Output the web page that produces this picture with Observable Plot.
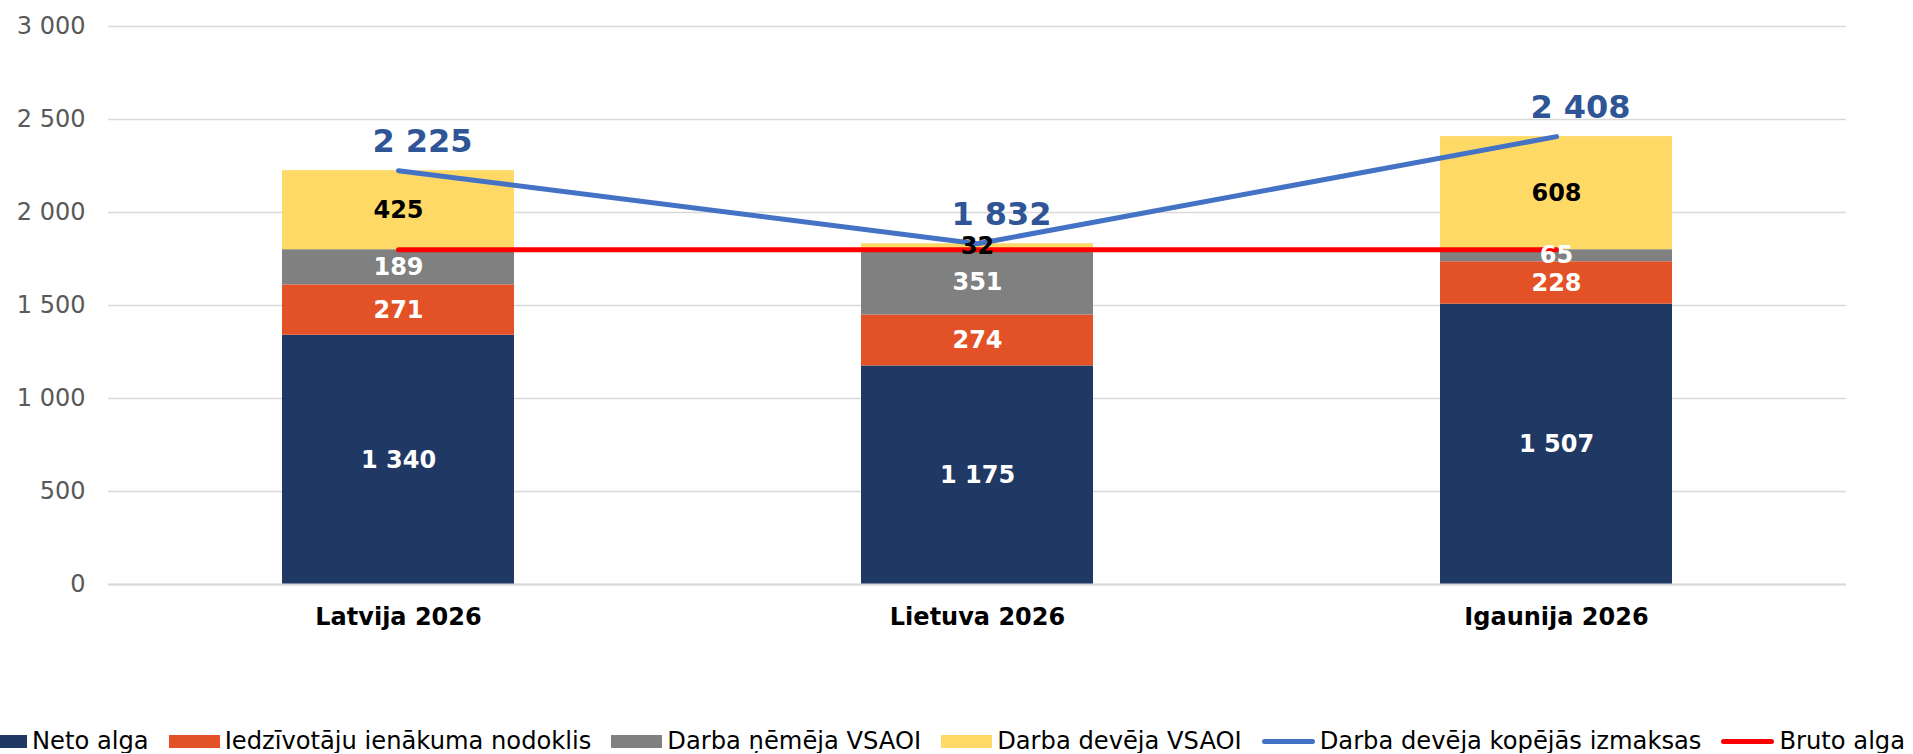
<!DOCTYPE html>
<html><head><meta charset="utf-8">
<script src="https://cdn.jsdelivr.net/npm/d3@7"></script>
<script src="https://cdn.jsdelivr.net/npm/@observablehq/plot@0.6"></script>
<style>
html,body{margin:0;padding:0;background:#fff;overflow:hidden;}
body{font-family:"DejaVu Sans",Verdana,sans-serif;}
#legend{display:flex;align-items:center;white-space:nowrap;margin-left:-24px;font-size:24.2px;line-height:24px;color:#000;}
.item{display:flex;align-items:center;margin-right:20px;}
.sw{display:inline-block;width:51px;height:13px;margin-right:5px;}
.ln{display:inline-block;width:53px;height:5px;border-radius:3px;margin-right:5px;}
</style></head><body>
<div id="chart"></div>
<div id="legend"></div>
<script>
const countries = ["Latvija 2026", "Lietuva 2026", "Igaunija 2026"];
const netoAlga = [1340, 1175, 1507];
const iedzivotajuIenakumaNodoklis = [271, 274, 228];
const darbaNemejaVSAOI = [189, 351, 65];
const darbaDevejaVSAOI = [425, 32, 608];
const kopejasIzmaksas = [2225, 1832, 2408];
const brutoAlga = [1800, 1800, 1800];
const stackSeries = ["Neto alga", "Iedzīvotāju ienākuma nodoklis", "Darba ņēmēja VSAOI", "Darba devēja VSAOI"];
const lineSeries = ["Darba devēja kopējās izmaksas", "Bruto alga"];
const yTicks = [0, 500, 1000, 1500, 2000, 2500, 3000];

const stackColors = ["#203864", "#e35226", "#808080", "#ffd966"];
const lineColors = ["#4472c4", "#ff0000"];

const stackValues = [netoAlga, iedzivotajuIenakumaNodoklis, darbaNemejaVSAOI, darbaDevejaVSAOI];
const rows = [];
stackSeries.forEach((s, si) => countries.forEach((c, ci) => rows.push({country: c, series: s, value: stackValues[si][ci]})));
const totalRows = countries.map((c, i) => ({country: c, value: kopejasIzmaksas[i]}));
const brutoRows = countries.map((c, i) => ({country: c, value: brutoAlga[i]}));

const fmt = d3.formatLocale({decimal: ",", thousands: " ", grouping: [3], currency: ["", ""]}).format(",d");
const yellow = stackSeries[3];
const font = "DejaVu Sans, Verdana, sans-serif";

const plot = Plot.plot({
  width: 1913, height: 729,
  marginLeft: 108, marginRight: 67, marginTop: 26, marginBottom: 145,
  style: {fontFamily: font, background: "#fff", overflow: "visible"},
  x: {domain: countries, paddingInner: 0.6, paddingOuter: 0.3},
  y: {domain: [0, 3000]},
  color: {domain: stackSeries, range: stackColors},
  marks: [
    Plot.gridY(yTicks, {stroke: "#d9d9d9", strokeOpacity: 1, strokeWidth: 1.5}),
    Plot.axisY(yTicks, {tickSize: 0, tickPadding: 23, tickFormat: fmt, fontSize: 24, color: "#595959", label: null}),
    Plot.axisX({tickSize: 0, tickPadding: 23, fontSize: 24, fontWeight: "bold", color: "#000", label: null}),
    Plot.barY(rows, {x: "country", y: "value", fill: "series"}),
    Plot.ruleY([0], {stroke: "#d9d9d9", strokeWidth: 2}),
    Plot.line(brutoRows, {x: "country", y: "value", stroke: lineColors[1], strokeWidth: 5, strokeLinecap: "round"}),
    Plot.line(totalRows, {x: "country", y: "value", stroke: lineColors[0], strokeWidth: 5, strokeLinecap: "round"}),
    Plot.text(rows, Plot.stackY({x: "country", y: "value", z: "series",
      text: d => d.series !== yellow ? fmt(d.value) : null,
      fill: "white", fontSize: 24, fontWeight: "bold"})),
    Plot.text(rows, Plot.stackY({x: "country", y: "value", z: "series",
      text: d => d.series === yellow ? fmt(d.value) : null,
      fill: "black", fontSize: 24, fontWeight: "bold"})),
    Plot.text(totalRows, {x: "country", y: "value", text: d => fmt(d.value), dy: -29, dx: 24,
      fill: "#2f5597", fontSize: 32, fontWeight: "bold"})
  ]
});
document.getElementById("chart").appendChild(plot);

const legend = document.getElementById("legend");
stackSeries.forEach((s, i) => {
  const it = document.createElement("div"); it.className = "item";
  const sw = document.createElement("span"); sw.className = "sw"; sw.style.background = stackColors[i];
  it.appendChild(sw); it.appendChild(document.createTextNode(s)); legend.appendChild(it);
});
lineSeries.forEach((s, i) => {
  const it = document.createElement("div"); it.className = "item";
  const sw = document.createElement("span"); sw.className = "ln"; sw.style.background = lineColors[i];
  it.appendChild(sw); it.appendChild(document.createTextNode(s)); legend.appendChild(it);
});
</script>
</body></html>
